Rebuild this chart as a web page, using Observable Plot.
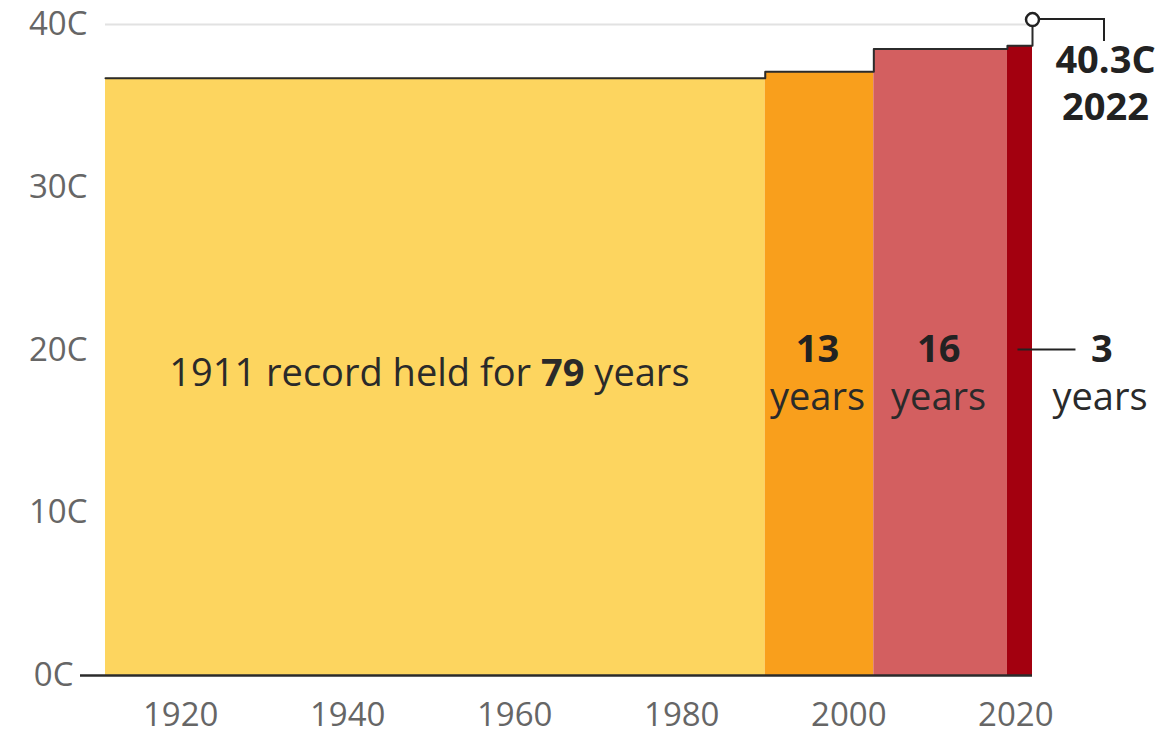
<!DOCTYPE html>
<html>
<head>
<meta charset="utf-8">
<script src="https://cdn.jsdelivr.net/npm/d3@7"></script>
<script src="https://cdn.jsdelivr.net/npm/@observablehq/plot@0.6"></script>
<style>
  html, body { margin: 0; padding: 0; background: #fff; }
  #chart svg { display: block; }
</style>
</head>
<body>
<div id="chart"></div>
<script>
// ---- data ----
const recordStart = [1911, 1990, 2003, 2019];
const recordEnd = [1990, 2003, 2019, 2022];
const recordTemp = [36.7, 37.1, 38.5, 38.7];
const yearsHeld = [79, 13, 16, 3];
const newRecordYear = 2022;
const newRecordTemp = 40.3;
const xTicks = [1920, 1940, 1960, 1980, 2000, 2020];
const yTicks = [0, 10, 20, 30, 40];

// ---- styles ----
const palette = ["#fdd55f", "#f99f1c", "#d35f60", "#a3000f"];
const FONT = "'Open Sans', sans-serif";
const ANN = 38;

const bars = recordStart.map((s, i) => ({start: s, end: recordEnd[i], temp: recordTemp[i], held: yearsHeld[i], colour: palette[i], mid: (s + recordEnd[i]) / 2}));
const stepPts = recordStart.map((s, i) => ({year: s, temp: recordTemp[i]})).concat([{year: newRecordYear, temp: newRecordTemp}]);
const newRec = [{year: newRecordYear, temp: newRecordTemp}];
const labelY = 20;

const plot = Plot.plot({
  width: 1164,
  height: 736,
  marginLeft: 105,
  marginRight: 132,
  marginTop: 24,
  marginBottom: 61,
  style: {fontFamily: FONT, background: "#fff", overflow: "visible"},
  x: {domain: [1911, 2022]},
  y: {domain: [0, 40]},
  marks: [
    Plot.ruleY([40], {stroke: "#e2e2e2", strokeWidth: 2}),
    Plot.rect(bars, {x1: "start", x2: "end", y1: 0, y2: "temp", fill: "colour"}),
    Plot.line(stepPts, {x: "year", y: "temp", curve: "step-after", stroke: "#2b2b2b", strokeWidth: 2}),
    Plot.ruleY([0], {stroke: "#2b2b2b", strokeWidth: 2.5, insetLeft: -25}),
    Plot.axisX({ticks: xTicks, tickSize: 0, tickPadding: 27, tickFormat: d => String(d), fontSize: 33, fill: "#666", fontFamily: FONT, label: null}),
    Plot.axisY({ticks: yTicks.filter(d => d > 0), tickSize: 0, tickPadding: 18, tickFormat: d => d + "C", fontSize: 33, fill: "#666", fontFamily: FONT, label: null}),
    Plot.axisY({ticks: yTicks.filter(d => d === 0), tickSize: 0, tickPadding: 32, tickFormat: d => d + "C", fontSize: 33, fill: "#666", fontFamily: FONT, label: null}),
    // labels inside bars
    Plot.text(bars.slice(0, 1), {x: "mid", y: labelY, text: d => `1911 record held for ${d.held} years`, fontSize: ANN, fill: "#2a2a2a", dx: -6, dy: 24, className: "long-label"}),
    Plot.text(bars.slice(1, 3), {x: "mid", y: labelY, text: d => String(d.held), fontSize: ANN, fontWeight: "bold", fill: "#222", dx: -2}),
    Plot.text(bars.slice(1, 3), {x: "mid", y: labelY, text: d => "years", fontSize: ANN, fill: "#2a2a2a", dx: -2, dy: 48}),
    Plot.text(bars.slice(3), {x: "mid", y: labelY, text: d => String(d.held), fontSize: ANN, fontWeight: "bold", fill: "#222", dx: 82}),
    Plot.text(bars.slice(3), {x: "mid", y: labelY, text: d => "years", fontSize: ANN, fill: "#2a2a2a", dx: 80, dy: 48}),
    // new record
    Plot.dot(newRec, {x: "year", y: "temp", r: 6.5, fill: "#fff", stroke: "#222", strokeWidth: 2.5}),
    Plot.text(newRec, {x: "year", y: "temp", text: d => d.temp + "C", fontSize: ANN, fontWeight: "bold", fill: "#222", dx: 73, dy: 41}),
    Plot.text(newRec, {x: "year", y: "temp", text: d => String(d.year), fontSize: ANN, fontWeight: "bold", fill: "#222", dx: 73, dy: 88})
  ]
});

document.getElementById("chart").appendChild(plot);

// connectors derived from scales
const sx = plot.scale("x"), sy = plot.scale("y");
const svg = d3.select(plot);
const cx = sx.apply(newRecordYear), cy = sy.apply(newRecordTemp);
svg.append("path")
  .attr("d", `M${cx + 7},${cy}H${cx + 72}V${cy + 22}`)
  .attr("fill", "none").attr("stroke", "#222").attr("stroke-width", 2);
const lastMid = bars[3].mid;
const lx = sx.apply(lastMid), ly = sy.apply(labelY);
svg.append("path")
  .attr("d", `M${lx - 2},${ly}H${lx + 56}`)
  .attr("fill", "none").attr("stroke", "#222").attr("stroke-width", 2);

// bold number inside the long label
svg.selectAll("g.long-label text").each(function() {
  const t = d3.select(this);
  const s = t.text();
  const m = s.match(/^(.*for )(\d+)( years)$/);
  if (m) {
    t.text(null);
    t.append("tspan").text(m[1]);
    t.append("tspan").attr("font-weight", "bold").text(m[2]);
    t.append("tspan").text(m[3]);
  }
});
</script>
</body>
</html>
